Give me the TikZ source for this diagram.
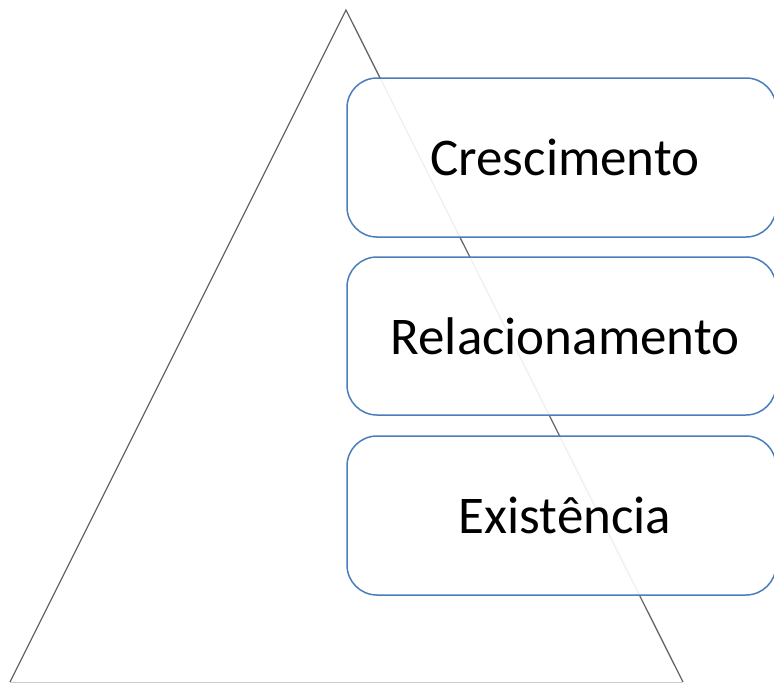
\documentclass[tikz,border=0pt]{standalone}
\usepackage{fontspec}
\setmainfont{Carlito}
\begin{document}
\begin{tikzpicture}[x=1pt,y=-1pt,
  tri/.style={draw=black!60, line width=1.3pt},
  lbl/.style={font=\fontsize{53}{60}\selectfont, text=black}]
\definecolor{boxblue}{HTML}{4A7EBB}
\tikzset{levelbox/.style={draw=boxblue, line width=1.5pt, rounded corners=30pt, fill=white, fill opacity=0.9}}
\useasboundingbox (0,0) rectangle (774,683);
\coordinate (apex) at (346,10);
\coordinate (bl) at (10,682);
\coordinate (br) at (683,682);
\draw[tri] (bl) -- (apex) -- (br);
\draw[black!20, line width=1pt] (bl) -- (br);
\foreach \t/\b/\name/\txt in {78/237/c/Crescimento, 257/415/r/Relacionamento, 436/595/e/Existência}{
  \draw[levelbox] (347,\t) rectangle (776,\b);
  \node[lbl] (\name) at (565,{(\t+\b)/2}) {\txt};
}
\end{tikzpicture}
\end{document}
